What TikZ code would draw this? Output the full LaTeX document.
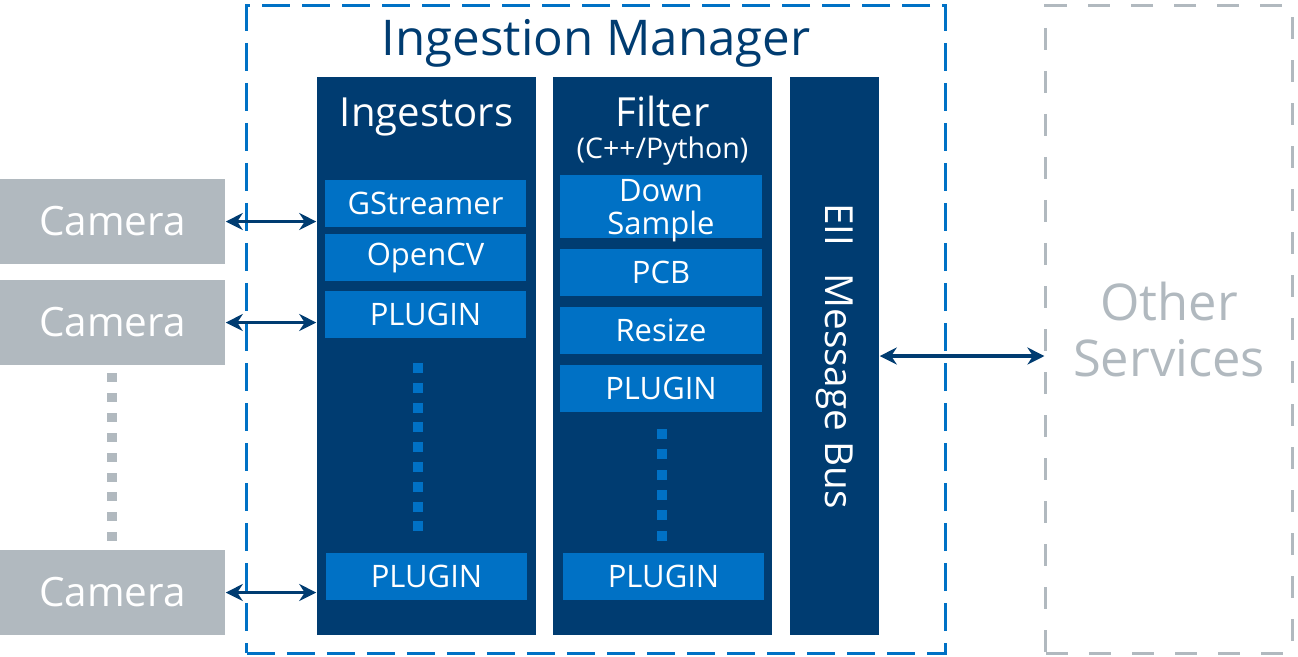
\documentclass[tikz,border=0pt]{standalone}
\usepackage{fontspec}
\setmainfont{Open Sans}
\usetikzlibrary{positioning,arrows.meta}
\definecolor{navy}{HTML}{003C71}
\definecolor{iblue}{HTML}{0071C5}
\definecolor{cgray}{HTML}{B1B9BF}
\tikzset{
  column/.style={rectangle,fill=navy,minimum width=2.19cm,minimum height=5.58cm,inner sep=0pt},
  coltitle/.style={text=white,inner sep=0pt,anchor=base,font=\fontsize{11.4}{13}\selectfont},
  sub/.style={rectangle,fill=iblue,text=white,align=center,inner sep=0pt,outer sep=0pt,
    minimum width=2.01cm,minimum height=0.47cm,font=\fontsize{8.8}{9.4}\selectfont},
  camera/.style={rectangle,fill=cgray,text=white,inner sep=0pt,
    minimum width=2.25cm,minimum height=0.85cm,font=\fontsize{11.5}{13}\selectfont},
  frame/.style={rectangle,line width=0.03cm,minimum height=6.47cm,inner sep=0pt},
  link/.style={{Stealth[length=0.17cm,width=0.17cm]}-{Stealth[length=0.17cm,width=0.17cm]},
    draw=navy,line width=0.038cm},
}
\begin{document}
\begin{tikzpicture}[x=0.01cm,y=-0.01cm]
  \useasboundingbox (0,0) rectangle (1298,656);

  \node [frame,draw=iblue,dash pattern=on 0.28cm off 0.12cm,minimum width=6.98cm] (im) at (596,329.5) {};
  \node [text=navy,inner sep=0pt,font=\fontsize{14}{16}\selectfont] (imt) at (596,43) {Ingestion Manager};
  \node [frame,draw=cgray,dash pattern=on 0.22cm off 0.21cm,minimum width=2.46cm,
    text=cgray,align=center,font=\fontsize{14.4}{16.2}\selectfont] (other) at (1169,329.5) {Other\\Services};

  \node [column] (ing) at (426.5,356) {};
  \node [column] (flt) at (662.5,356) {};
  \node [column,minimum width=0.89cm] (bus) at (834.5,356) {};
  \node [coltitle] (ingt) at (426.5,126) {Ingestors};
  \node [coltitle] (fltt) at (662.5,126) {Filter};
  \node [coltitle,font=\fontsize{8.1}{9}\selectfont] (fltl) at (662.5,158) {(C++/Python)};
  \node [coltitle,anchor=center,rotate=-90,font=\fontsize{11}{13}\selectfont] (bust) at (bus) {EII\hspace{0.17cm} Message Bus};

  \node [sub] (gst) at (425.5,203.5) {GStreamer};
  \node [sub,below=0.07cm of gst] (ocv) {OpenCV};
  \node [sub,below=0.1cm of ocv] (ipl1) {PLUGIN};
  \node [sub] (ipln) at (426.5,576.5) {PLUGIN};

  \node [sub,minimum height=0.63cm,text depth=-0.6pt] (ds) at (661,206.5) {Down\\Sample};
  \node [sub,below=0.11cm of ds] (pcb) {PCB};
  \node [sub,below=0.11cm of pcb] (rsz) {Resize};
  \node [sub,below=0.11cm of rsz] (fpl1) {PLUGIN};
  \node [sub] (fpln) at (663.5,576.5) {PLUGIN};

  \foreach \y in {0,...,8} \fill[iblue] (413,363+19.8*\y) rectangle ++(10,10);
  \foreach \y in {0,...,5} \fill[iblue] (656.5,429+20.3*\y) rectangle ++(10,10);

  \node [camera] (cam1) at (112.5,221.5) {Camera};
  \node [camera] (cam2) at (112.5,322.5) {Camera};
  \node [camera] (cam3) at (112.5,592.5) {Camera};
  \foreach \y in {0,...,8} \fill[cgray] (107,373+19.9*\y) rectangle ++(10,9);

  \draw[link] (cam1.east) -- (cam1.east -| ing.west);
  \draw[link] (cam2.east) -- (cam2.east -| ing.west);
  \draw[link] (cam3.east) -- (cam3.east -| ing.west);
  \draw[link] (bus.east) -- (bus.east -| other.west);
\end{tikzpicture}
\end{document}
